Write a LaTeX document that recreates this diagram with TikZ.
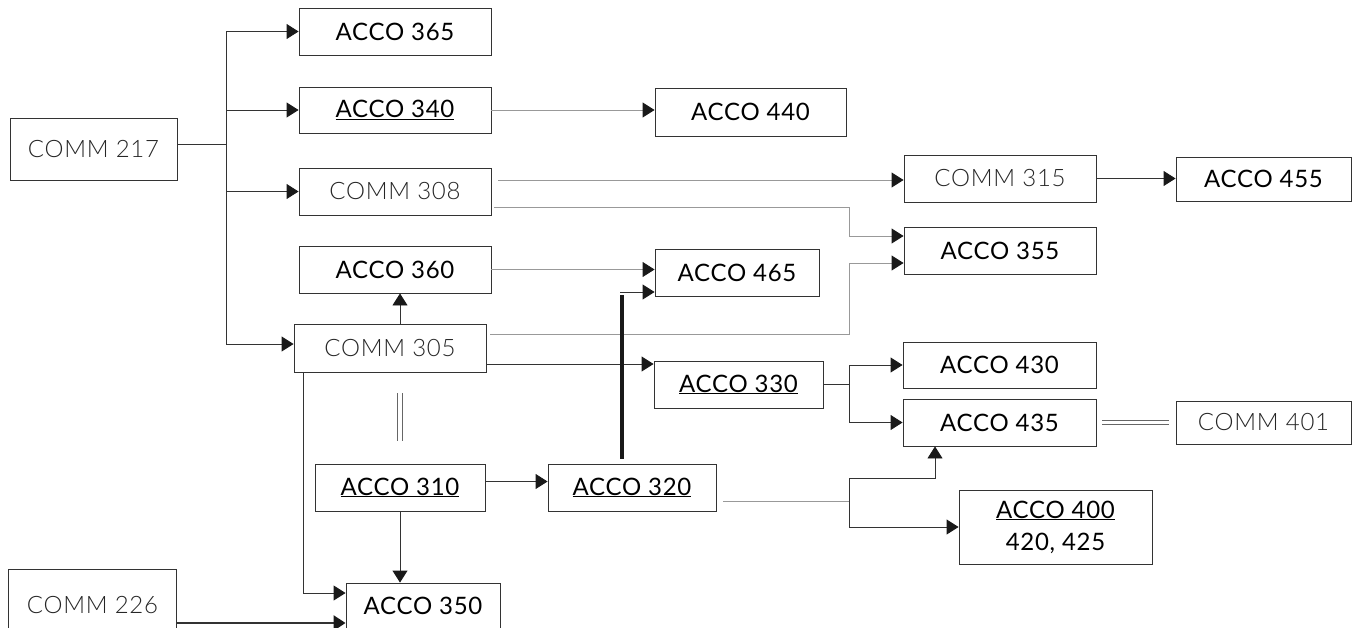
\documentclass[tikz,border=0pt]{standalone}
\usepackage{fontspec}
\setmainfont[LetterSpace=3]{Lato}
\newfontfamily\lightfont[LetterSpace=3]{Lato Light}
\usetikzlibrary{arrows.meta}

\begin{document}
\begin{tikzpicture}[x=1pt,y=-1pt,
  box/.style={draw=black!80,line width=0.9pt,inner sep=0pt},
  acco/.style={box,text=black,font=\fontsize{24}{32}\selectfont},
  comm/.style={box,text=black!85,font=\fontsize{24}{32}\selectfont\lightfont},
  line/.style={line width=0.9pt,draw=black!80},
  light/.style={line width=0.9pt,draw=black!40},
  arr/.style={-{Triangle[length=12pt,width=15pt,color=black!90]}},
  dbl/.style={draw=black!60,line width=0.8pt,double,double distance=3.5pt},
  heavy/.style={draw=black!90,line width=4pt}]
\useasboundingbox (0,0) rectangle (1352,627);

% courses
\node[comm,minimum width=167pt,minimum height=62pt] (c217) at (93.5,149) {COMM 217};
\node[acco,minimum width=192pt,minimum height=47pt] (a365) at (395,31.5) {ACCO 365};
\node[acco,minimum width=192pt,minimum height=46pt] (a340) at (395,110) {\underline{ACCO 340}};
\node[comm,minimum width=192pt,minimum height=47pt] (c308) at (395,191.5) {COMM 308};
\node[acco,minimum width=191pt,minimum height=48pt] (a440) at (750.5,112) {ACCO 440};
\node[comm,minimum width=192pt,minimum height=47pt] (c315) at (1000,178.5) {COMM 315};
\node[acco,minimum width=175pt,minimum height=44pt] (a455) at (1263.5,179) {ACCO 455};
\node[acco,minimum width=192pt,minimum height=47pt] (a355) at (1000,250.5) {ACCO 355};
\node[acco,minimum width=192pt,minimum height=47pt] (a360) at (395,269.5) {ACCO 360};
\node[acco,minimum width=164pt,minimum height=47pt] (a465) at (737,272.5) {ACCO 465};
\node[comm,minimum width=192pt,minimum height=48pt] (c305) at (390,348) {COMM 305};
\node[acco,minimum width=169pt,minimum height=47pt] (a330) at (738.5,384.5) {\underline{ACCO 330}};
\node[acco,minimum width=193pt,minimum height=46pt] (a430) at (999.5,365) {ACCO 430};
\node[acco,minimum width=193pt,minimum height=47pt] (a435) at (999.5,422.5) {ACCO 435};
\node[comm,minimum width=175pt,minimum height=43pt] (c401) at (1263.5,422.5) {COMM 401};
\node[acco,minimum width=170pt,minimum height=47pt] (a310) at (400,487.5) {\underline{ACCO 310}};
\node[acco,minimum width=168pt,minimum height=47pt] (a320) at (632,487.5) {\underline{ACCO 320}};
\node[acco,minimum width=193pt,minimum height=74pt,align=center] (a400) at (1055.5,527) {\underline{ACCO 400}\\420, 425};
\node[comm,minimum width=168pt,minimum height=72pt] (c226) at (92.5,605) {COMM 226};
\node[acco,minimum width=154pt,minimum height=46pt] (a350) at (423,606) {ACCO 350};

% branch points
\coordinate (t0) at (226,31.5); \coordinate (t1) at (226,344);
\coordinate (j1) at (849,207); \coordinate (j2) at (849,334);
\coordinate (j3) at (849,384.5); \coordinate (j4) at (849,501);
\coordinate (j5) at (849,478); \coordinate (k) at (622,292);

% COMM 217 fan
\draw[line] (t0) -- (t1);
\draw[line] ([yshift=5pt]c217.east) -- ([yshift=5pt]c217.east -| t0);
\foreach \n in {a365,a340,c308}
  \draw[line,arr] (\n.west -| t0) -- (\n.west);
\draw[line,arr] (t1) -- (t1 -| c305.west);

\draw[light,arr] (a340.east) -- (a340.east -| a440.west);
\draw[light,arr] ([xshift=7pt,yshift=11.5pt]c308.east) -- ([yshift=11.5pt]c308.east -| c315.west);
\draw[light,arr] ([xshift=3pt,yshift=-15.5pt]c308.east) -- (j1) |- ([yshift=14.5pt]a355.west);
\draw[line,arr] (c315.east) -- (c315.east -| a455.west);
\draw[light,arr] (a360.east) -- (a360.east -| a465.west);

% COMM 305
\draw[line,arr] ([xshift=10pt]c305.north) -- ([xshift=10pt]c305.north |- a360.south);
\draw[light,arr] ([xshift=4pt,yshift=14pt]c305.east) -- (j2) |- ([yshift=-12.5pt]a355.west);
\draw[line,arr] ([yshift=-16pt]c305.east) -- ([yshift=-16pt]c305.east -| a330.west);
\draw[dbl,shorten <=21pt,shorten >=23pt] ([xshift=10pt]c305.south) -- (a310.north);
\draw[line,arr] ([xshift=10pt]c305.south west) |- ([yshift=13pt]a350.west);

% ACCO 330
\draw[line] (a330.east) -- (j3);
\draw[line,arr] (j3) |- (a430.west);
\draw[line,arr] (j3) |- (a435.west);
\draw[dbl,shorten <=6pt,shorten >=7pt] (a435.east) -- (c401.west);

% ACCO 310 / 320
\draw[line,arr] ([yshift=6pt]a310.east) -- ([yshift=6pt]a310.east -| a320.west);
\draw[line,arr] (a310.south) -- (a310.south |- a350.north);
\draw[heavy] ([yshift=-3pt]k) -- ([yshift=5pt]k |- a320.north);
\draw[line,arr] ([xshift=-2pt]k) -- (k -| a465.west);
\draw[light] ([xshift=7pt,yshift=-13.5pt]a320.east) -- (j4);
\draw[line,arr] (j4) -- (j5) -| ([xshift=-64.5pt]a435.south);
\draw[line,arr] (j4) |- (a400.west);

% COMM 226
\draw[line,line width=2.5pt,arr] ([yshift=-18pt]c226.east) -- ([yshift=-18pt]c226.east -| a350.west);
\end{tikzpicture}
\end{document}
